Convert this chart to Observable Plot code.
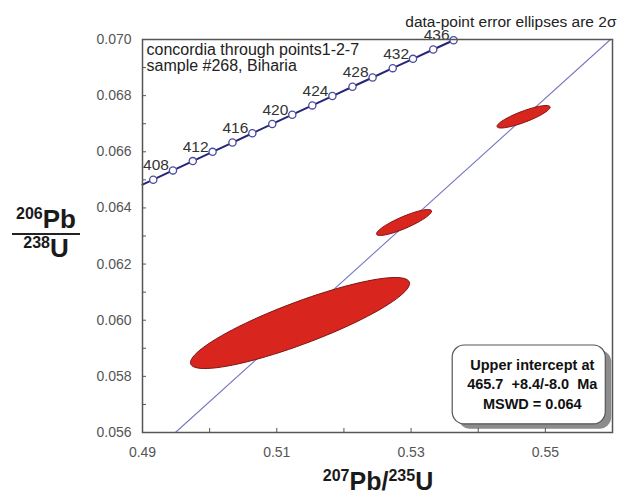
<!DOCTYPE html>
<html><head><meta charset="utf-8">
<script src="https://cdn.jsdelivr.net/npm/d3@7"></script>
<script src="https://cdn.jsdelivr.net/npm/@observablehq/plot@0.6"></script>
<style>
body{margin:0;background:#fff;}
#chart svg{font-family:"Liberation Sans",Arial,sans-serif;}
</style>
</head><body><div id="chart"></div>
<script>
// ---- data ----
const concordiaAges = [406,408,410,412,414,416,418,420,422,424,426,428,430,432,434,436];
const concordiaX = [0.49160,0.49454,0.49749,0.50044,0.50340,0.50636,0.50933,0.51231,0.51529,0.51828,0.52127,0.52427,0.52727,0.53029,0.53330,0.53633];
const concordiaY = [0.065006,0.065337,0.065668,0.065998,0.066329,0.066660,0.066991,0.067322,0.067653,0.067985,0.068316,0.068647,0.068979,0.069311,0.069643,0.069974];
const concordiaEntry = [0.4900, 0.06483];   // where the curve enters the frame
const labelledAges = [408,412,416,420,424,428,432,436];

const ellipseCx  = [0.51346, 0.52895, 0.54675];
const ellipseCy  = [0.05990, 0.063481, 0.067248];
const ellipseSx  = [0.01631, 0.004096, 0.003947];
const ellipseSy  = [0.001621, 0.000463, 0.000401];
const ellipseRho = [0.87, 0.87, 0.85];

const discordiaX = [0.4949, 0.5597];
const discordiaY = [0.0560, 0.0700];

const xTickLabels = [0.49, 0.51, 0.53, 0.55];
const xMinorTicks = [0.49, 0.50, 0.51, 0.52, 0.53, 0.54, 0.55, 0.56];
const yTickLabels = [0.056, 0.058, 0.060, 0.062, 0.064, 0.066, 0.068, 0.070];
const yMinorTicks = [0.056,0.057,0.058,0.059,0.060,0.061,0.062,0.063,0.064,0.065,0.066,0.067,0.068,0.069,0.070];

const noteTopLeft = ["concordia through points1-2-7", "sample #268, Biharia"];
const noteTopRight = "data-point error ellipses are 2σ";
const insetLines = ["Upper intercept at", "465.7  +8.4/-8.0  Ma", "MSWD = 0.064"];
const insetBox = {x1: 0.5362, x2: 0.5590, y1: 0.05629, y2: 0.05910};

// ---- derived tables ----
const nodes = concordiaAges.map((age, i) => ({age, x: concordiaX[i], y: concordiaY[i]}));
const curve = [{x: concordiaEntry[0], y: concordiaEntry[1]}, ...nodes];
const labelled = nodes.filter(d => labelledAges.includes(d.age));
const discordia = discordiaX.map((x, i) => ({x, y: discordiaY[i]}));
const ellipsePts = [];
ellipseCx.forEach((cx, i) => {
  const n = 90, r = ellipseRho[i], k = Math.sqrt(1 - r * r);
  for (let j = 0; j < n; j++) {
    const t = 2 * Math.PI * j / n;
    ellipsePts.push({id: i, x: cx + ellipseSx[i] * Math.cos(t),
      y: ellipseCy[i] + ellipseSy[i] * (r * Math.cos(t) + k * Math.sin(t))});
  }
});

const plot = Plot.plot({
  width: 633, height: 497,
  marginLeft: 142, marginRight: 21, marginTop: 39, marginBottom: 65,
  x: {domain: [0.49, 0.56]},
  y: {domain: [0.056, 0.070]},
  style: {fontFamily: '"Liberation Sans", Arial, sans-serif', background: "white", overflow: "visible"},
  marks: [
    Plot.line(discordia, {x: "x", y: "y", stroke: "#7878c2", strokeWidth: 1.1}),
    Plot.line(ellipsePts, {x: "x", y: "y", z: "id", curve: "linear-closed", fill: "#d8261f", stroke: "#7d1414", strokeWidth: 1}),
    Plot.line(curve, {x: "x", y: "y", stroke: "#25257a", strokeWidth: 2}),
    Plot.dot(nodes, {x: "x", y: "y", r: 3.6, fill: "white", stroke: "#4b4b9e", strokeWidth: 1.3}),
    Plot.text(labelled, {x: "x", y: "y", text: d => String(d.age), textAnchor: "end", lineAnchor: "bottom", dx: -4, dy: 0, fontSize: 15.5, fill: "#333"}),
    Plot.text([noteTopLeft.join("\n")], {frameAnchor: "top-left", textAnchor: "start", lineAnchor: "top", dx: 4, dy: 4, fontSize: 16, lineHeight: 1.0, fill: "#222"}),
    Plot.text([noteTopRight], {frameAnchor: "top-right", textAnchor: "end", lineAnchor: "bottom", dx: 4, dy: -13, fontSize: 15.5, fill: "#222"}),
    Plot.rect([insetBox], {x1: "x1", x2: "x2", y1: "y1", y2: "y2", rx: 12, fill: "#8c8c8c", dx: 6, dy: 5}),
    Plot.rect([insetBox], {x1: "x1", x2: "x2", y1: "y1", y2: "y2", rx: 12, fill: "white", stroke: "#555", strokeWidth: 1.2}),
    Plot.text([insetLines.join("\n")], {x: (insetBox.x1 + insetBox.x2) / 2, y: (insetBox.y1 + insetBox.y2) / 2, dx: 3, dy: -2, lineAnchor: "middle", textAnchor: "middle", fontSize: 14.5, fontWeight: "bold", lineHeight: 1.35, fill: "#111"}),
    Plot.frame({stroke: "#555", strokeWidth: 1.5}),
    Plot.axisX({ticks: xMinorTicks, tickSize: -4, tickFormat: () => "", color: "#555", label: null}),
    Plot.axisX({ticks: xTickLabels, tickSize: 0, tickPadding: 15, tickFormat: d3.format(".2f"), fontSize: 14, color: "#555", label: null}),
    Plot.axisY({ticks: yMinorTicks, tickSize: -4, tickFormat: () => "", color: "#555", label: null}),
    Plot.axisY({ticks: yTickLabels, tickSize: 0, tickPadding: 11, tickFormat: d3.format(".3f"), fontSize: 14, color: "#555", label: null})
  ]
});
document.getElementById("chart").appendChild(plot);

// ---- rich axis titles ----
const svg = d3.select(plot);
function richText(x, y, parts, big) {
  const t = svg.append("text").attr("x", x).attr("y", y).attr("text-anchor", "middle")
    .attr("font-weight", "bold").attr("fill", "#1a1a1a")
    .style("font-family", '"Liberation Sans", Arial, sans-serif');
  let shift = 0;
  parts.forEach(([s, sup]) => {
    const target = sup ? -9 : 0;
    t.append("tspan").attr("dy", target - shift).attr("font-size", sup ? 16 : big).text(s);
    shift = target;
  });
}
richText(46, 228, [["206", true], ["Pb", false]], 26);
svg.append("line").attr("x1", 12).attr("x2", 80).attr("y1", 234).attr("y2", 234).attr("stroke", "#222").attr("stroke-width", 2);
richText(46, 257, [["238", true], ["U", false]], 26);
richText(378, 490, [["207", true], ["Pb", false], ["/", false], ["235", true], ["U", false]], 25);
</script>
</body></html>
